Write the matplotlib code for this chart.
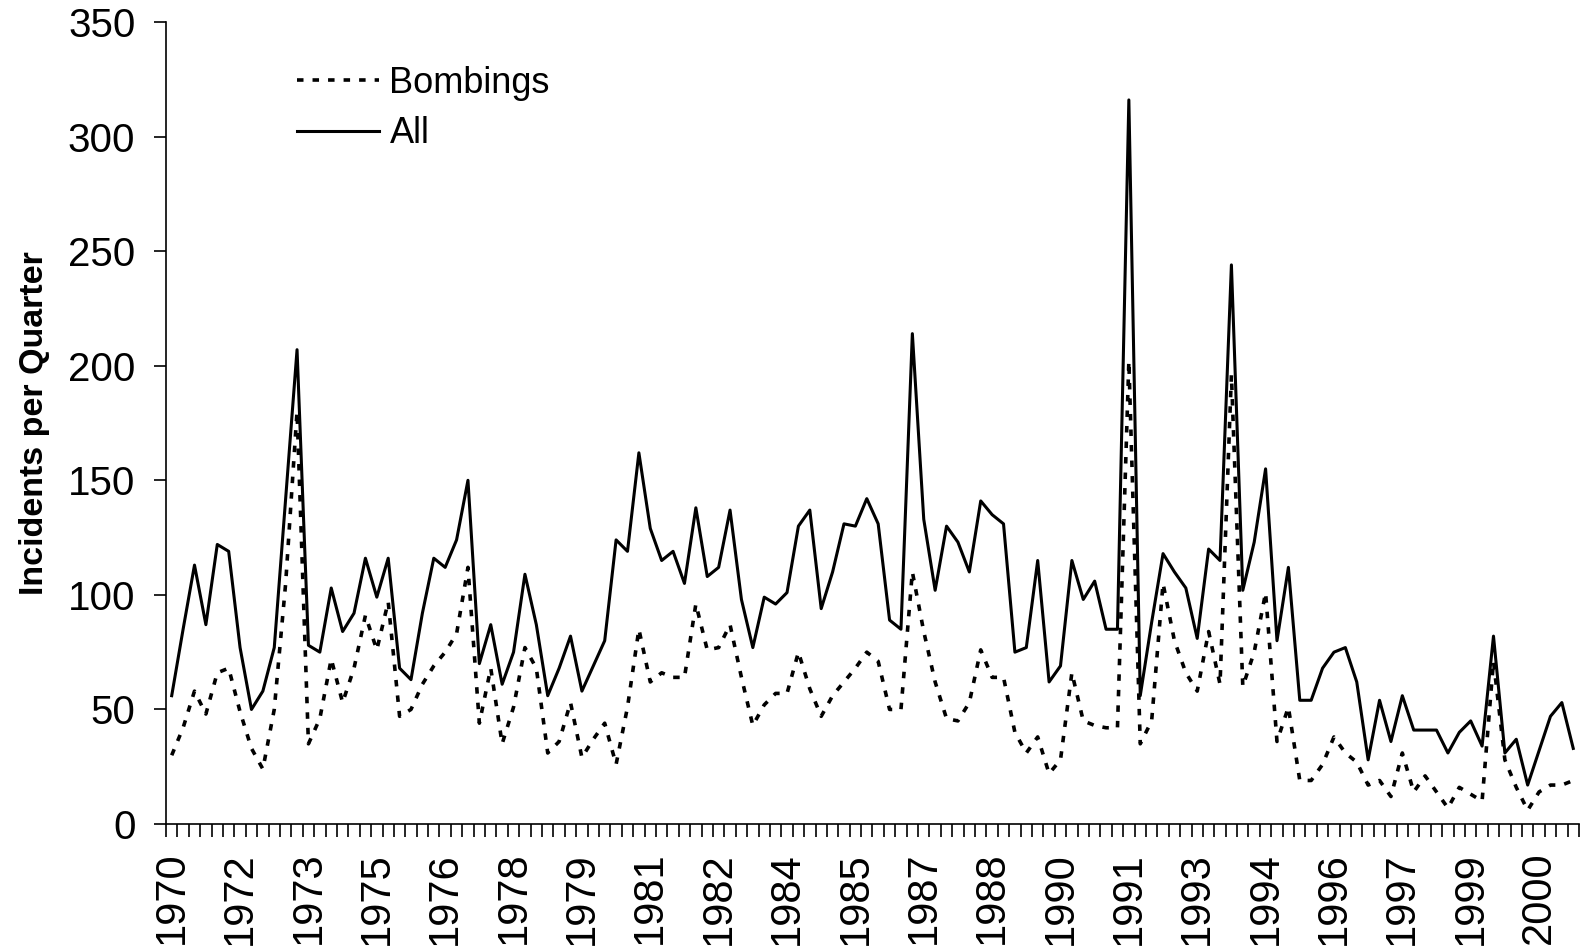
import numpy as np
import matplotlib
matplotlib.use("Agg")
import matplotlib.pyplot as plt

plt.rcParams['font.family'] = ['Liberation Sans', 'DejaVu Sans']

# quarterly series, 1970 Q3 .. 2001 Q2
all_incidents = [
    56, 85, 113, 87, 122, 119, 77, 50, 58, 77, 142, 207,
    78, 75, 103, 84, 92, 116, 99, 116, 68, 63, 92, 116,
    112, 124, 150, 70, 87, 61, 75, 109, 87, 56, 68, 82,
    58, 69, 80, 124, 119, 162, 129, 115, 119, 105, 138, 108,
    112, 137, 98, 77, 99, 96, 101, 130, 137, 94, 110, 131,
    130, 142, 131, 89, 85, 214, 133, 102, 130, 123, 110, 141,
    135, 131, 75, 77, 115, 62, 69, 115, 98, 106, 85, 85,
    316, 56, 88, 118, 110, 103, 81, 120, 115, 244, 102, 123,
    155, 80, 112, 54, 54, 68, 75, 77, 62, 28, 54, 36,
    56, 41, 41, 41, 31, 40, 45, 34, 82, 31, 37, 17,
    32, 47, 53, 33,
]
bombings = [
    30, 42, 58, 48, 66, 68, 49, 33, 24, 50, 105, 180,
    35, 46, 72, 53, 68, 91, 76, 97, 47, 50, 61, 69,
    75, 83, 112, 44, 68, 35, 51, 77, 68, 31, 36, 53,
    29, 37, 44, 26, 51, 85, 62, 66, 64, 64, 96, 76,
    77, 87, 64, 43, 52, 57, 57, 75, 59, 47, 56, 62,
    68, 75, 71, 50, 50, 110, 84, 62, 46, 45, 53, 76,
    64, 64, 40, 31, 38, 22, 28, 66, 45, 43, 42, 42,
    202, 35, 45, 105, 80, 66, 58, 84, 61, 196, 60, 75,
    101, 36, 51, 19, 19, 26, 38, 31, 27, 17, 19, 12,
    31, 14, 21, 14, 7, 16, 13, 10, 71, 28, 16, 6,
    14, 17, 17, 19,
]
# one label every six quarters, as on the category axis
year_labels = ['1970', '1972', '1973', '1975', '1976', '1978', '1979',
               '1981', '1982', '1984', '1985', '1987', '1988', '1990',
               '1991', '1993', '1994', '1996', '1997', '1999', '2000']
y_ticks = [0, 50, 100, 150, 200, 250, 300, 350]

x = np.arange(len(all_incidents))

fig = plt.figure(figsize=(15.81, 9.49), dpi=100)
ax = fig.add_axes([0.105, 0.1317, 0.8937, 0.8451])

ax.plot(x, bombings, color='black', lw=2.6, linestyle=(0, (1.8, 2.5)),
        dash_capstyle='butt', label='Bombings')
ax.plot(x, all_incidents, color='black', lw=2.2, label='All')

ax.set_xlim(-0.5, len(x) - 0.5)
ax.set_ylim(0, 350)
ax.set_yticks(y_ticks)
ax.tick_params(axis='y', direction='out', length=9, width=1.2,
               labelsize=29, pad=13)

ax.set_xticks(np.arange(0, len(x), 6))
ax.set_xticklabels(year_labels, rotation=90)
ax.set_xticks(np.arange(-0.5, len(x), 1), minor=True)
ax.tick_params(axis='x', which='major', length=0, labelsize=30, pad=20)
ax.tick_params(axis='x', which='minor', direction='out', length=9, width=1.2)

for side in ['top', 'right']:
    ax.spines[side].set_visible(False)
for side in ['left', 'bottom']:
    ax.spines[side].set_linewidth(1.2)

ax.set_ylabel('Incidents per Quarter', fontsize=24.5, fontweight='bold',
              labelpad=13)

ax.legend(loc='upper left', bbox_to_anchor=(0.093, 0.945), frameon=False,
          fontsize=26, handlelength=2.25, handletextpad=0.3,
          labelspacing=0.42, borderpad=0, borderaxespad=0)

fig.savefig('out.png', dpi=100)
